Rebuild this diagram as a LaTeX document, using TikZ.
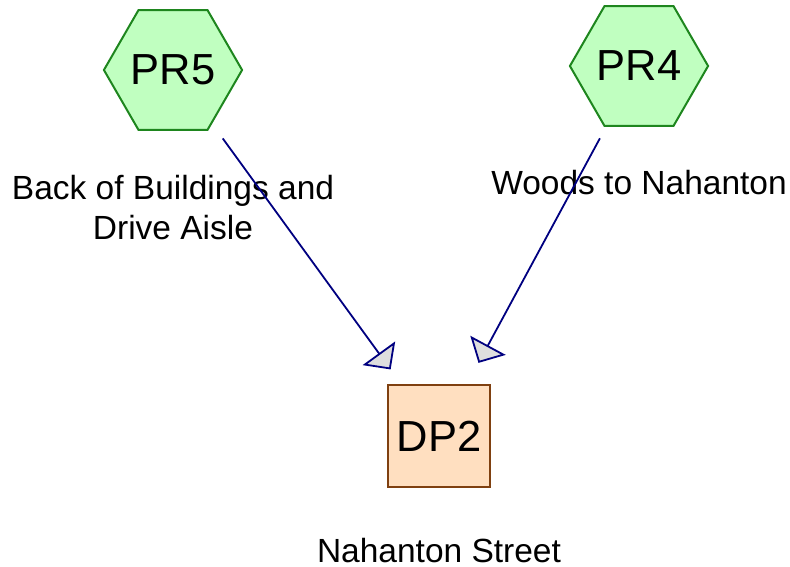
\documentclass[tikz,border=0pt]{standalone}
\usepackage{fontspec}
\setmainfont{Liberation Sans}
\usepackage{tikz}
\usetikzlibrary{arrows.meta,positioning,shapes.geometric}
\definecolor{procfill}{HTML}{C0FFC0}
\definecolor{procline}{HTML}{1E861E}
\definecolor{dpfill}{HTML}{FFDFC0}
\definecolor{dpline}{HTML}{7F4010}
\definecolor{flowline}{HTML}{000080}

\begin{document}
\begin{tikzpicture}[x=1pt, y=-1pt,
  proc/.style={regular polygon, regular polygon sides=6, draw=procline,
               fill=procfill, line width=2pt, minimum size=136pt, inner sep=0pt,
               font=\fontsize{43.5}{52}\selectfont},
  dpbox/.style={rectangle, draw=dpline, fill=dpfill, line width=2pt,
                minimum size=102pt, inner sep=0pt, font=\fontsize{43.5}{52}\selectfont},
  lbl/.style={inner sep=0pt, align=center, font=\fontsize{33.5}{40}\selectfont},
  flow/.style={draw=flowline, line width=1.8pt,
               -{Triangle[length=20pt, width=40pt, fill=black!13]}},
]
  \useasboundingbox (0,0) rectangle (790,567);
  \node[proc] (pr5) at (173,70) {PR5};
  \node[proc] (pr4) at (639,66) {PR4};
  \node[dpbox] (dp2) at (439,436) {DP2};
  \node[lbl, below=44pt of pr5] (pr5lbl) {Back of Buildings and\\Drive Aisle};
  \node[lbl, below=43pt of pr4] (pr4lbl) {Woods to Nahanton};
  \node[lbl, below=50pt of dp2] (dp2lbl) {Nahanton Street};
  \draw[flow, shorten <=18pt, shorten >=18pt] (pr5) -- (dp2);
  \draw[flow, shorten <=13pt, shorten >=24pt] (pr4) -- (dp2);
\end{tikzpicture}
\end{document}
